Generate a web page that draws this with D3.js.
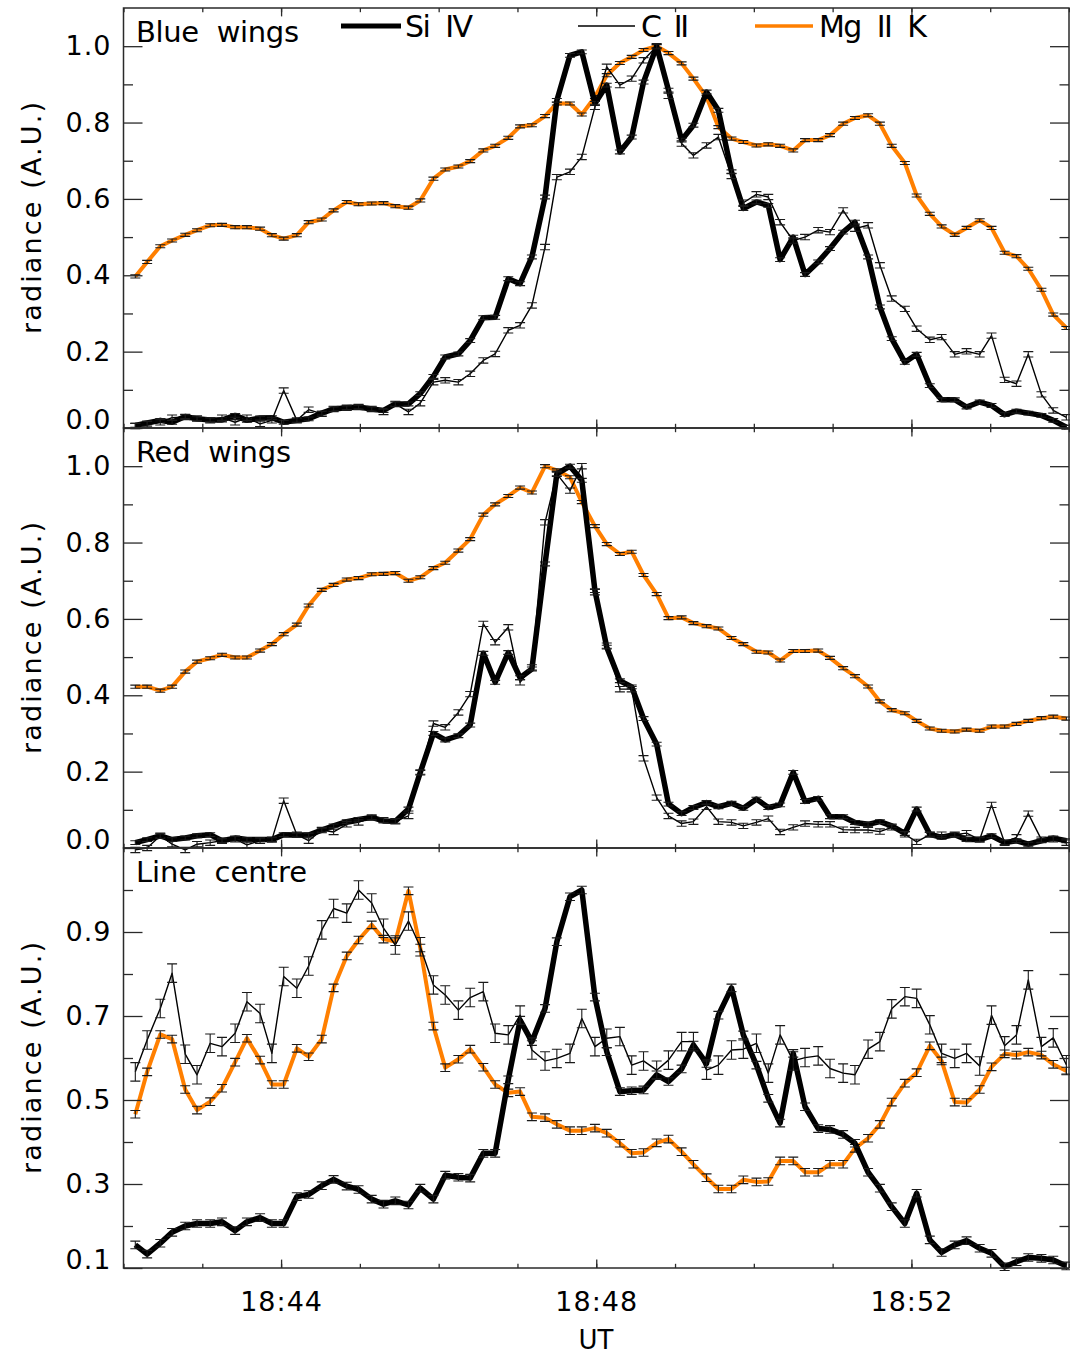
<!DOCTYPE html>
<html><head><meta charset="utf-8">
<script src="https://cdn.jsdelivr.net/npm/d3@7"></script>
<style>
body{margin:0;background:#fff;}
svg text{font-family:"DejaVu Sans",sans-serif;fill:#000;}
</style></head><body>
<svg id="chart" width="1070" height="1358"></svg>
<script>
// ---------------- DATA ----------------
const times = ["18:42:09","18:42:18","18:42:28","18:42:37","18:42:47","18:42:56","18:43:06","18:43:15","18:43:25","18:43:34",
"18:43:44","18:43:53","18:44:02","18:44:12","18:44:21","18:44:31","18:44:40","18:44:50","18:44:59","18:45:09",
"18:45:18","18:45:27","18:45:37","18:45:46","18:45:56","18:46:05","18:46:15","18:46:24","18:46:34","18:46:43",
"18:46:53","18:47:02","18:47:11","18:47:21","18:47:30","18:47:40","18:47:49","18:47:59","18:48:08","18:48:18",
"18:48:27","18:48:36","18:48:46","18:48:55","18:49:05","18:49:14","18:49:24","18:49:33","18:49:43","18:49:52",
"18:50:02","18:50:11","18:50:20","18:50:30","18:50:39","18:50:49","18:50:58","18:51:08","18:51:17","18:51:27",
"18:51:36","18:51:45","18:51:55","18:52:04","18:52:14","18:52:23","18:52:33","18:52:42","18:52:52","18:53:01",
"18:53:11","18:53:20","18:53:29","18:53:39","18:53:48","18:53:58"];

const panelTitles = ["Blue  wings","Red  wings","Line  centre"];
const seriesNames = ["Si  IV","C  II","Mg  II  K"];

const blueSiIV = [0.007,0.013,0.020,0.015,0.030,0.024,0.021,0.021,0.033,0.020,
0.026,0.027,0.015,0.020,0.024,0.039,0.050,0.053,0.055,0.050,
0.046,0.063,0.063,0.090,0.135,0.186,0.194,0.229,0.289,0.290,
0.391,0.378,0.448,0.605,0.858,0.976,0.985,0.850,0.898,0.723,
0.762,0.906,1.000,0.885,0.754,0.793,0.880,0.832,0.671,0.575,
0.592,0.583,0.441,0.500,0.402,0.435,0.470,0.513,0.539,0.448,
0.317,0.234,0.172,0.193,0.111,0.074,0.074,0.055,0.068,0.059,
0.035,0.044,0.039,0.033,0.020,0.002];
const blueCII = [0.005,0.010,0.015,0.027,0.029,0.025,0.020,0.027,0.015,0.027,
0.011,0.020,0.098,0.020,0.048,0.037,0.050,0.053,0.055,0.050,
0.042,0.063,0.042,0.065,0.120,0.125,0.120,0.142,0.177,0.194,
0.256,0.269,0.321,0.474,0.657,0.671,0.710,0.841,0.946,0.898,
0.915,0.963,1.000,0.870,0.745,0.714,0.740,0.762,0.660,0.590,
0.612,0.605,0.539,0.491,0.500,0.518,0.513,0.570,0.522,0.531,
0.426,0.339,0.312,0.260,0.231,0.238,0.193,0.201,0.193,0.242,
0.126,0.116,0.193,0.088,0.046,0.028];
const blueMgIIK = [0.397,0.435,0.476,0.491,0.506,0.518,0.531,0.532,0.526,0.526,
0.522,0.505,0.496,0.505,0.539,0.546,0.570,0.592,0.586,0.588,
0.589,0.581,0.577,0.596,0.653,0.677,0.685,0.699,0.727,0.739,
0.760,0.790,0.793,0.817,0.850,0.850,0.821,0.867,0.924,0.956,
0.972,0.990,1.000,0.982,0.955,0.915,0.867,0.788,0.758,0.749,
0.740,0.743,0.739,0.727,0.754,0.754,0.767,0.797,0.812,0.819,
0.797,0.739,0.694,0.609,0.561,0.528,0.506,0.524,0.544,0.524,
0.459,0.450,0.417,0.362,0.297,0.262];

const redSiIV = [0.014,0.022,0.032,0.022,0.026,0.032,0.035,0.019,0.026,0.022,
0.022,0.022,0.035,0.034,0.034,0.047,0.058,0.069,0.075,0.080,
0.071,0.070,0.102,0.198,0.300,0.283,0.294,0.322,0.510,0.434,
0.512,0.446,0.469,0.744,0.980,1.000,0.963,0.674,0.526,0.438,
0.422,0.339,0.272,0.115,0.090,0.106,0.119,0.108,0.117,0.104,
0.128,0.106,0.113,0.198,0.122,0.130,0.082,0.082,0.067,0.062,
0.069,0.058,0.038,0.102,0.036,0.028,0.035,0.022,0.022,0.032,
0.014,0.019,0.010,0.019,0.026,0.019];
const redCII = [-0.005,0.000,0.032,0.010,-0.005,0.010,0.014,0.019,0.023,0.008,
0.019,0.022,0.124,0.035,0.019,0.047,0.042,0.062,0.067,0.080,
0.073,0.070,0.084,0.198,0.326,0.316,0.355,0.403,0.587,0.539,
0.578,0.434,0.473,0.853,0.980,0.936,1.000,0.670,0.530,0.416,
0.416,0.235,0.132,0.084,0.064,0.069,0.108,0.069,0.067,0.058,
0.067,0.077,0.042,0.054,0.064,0.062,0.062,0.048,0.047,0.047,
0.043,0.054,0.036,0.016,0.035,0.035,0.035,0.039,0.022,0.113,
0.014,0.028,0.090,0.022,0.023,0.014];
const redMgIIK = [0.4225,0.4225,0.412,0.4225,0.462,0.488,0.497,0.506,0.499,0.499,
0.517,0.534,0.560,0.585,0.635,0.676,0.689,0.703,0.707,0.717,
0.718,0.720,0.700,0.709,0.733,0.747,0.779,0.809,0.873,0.900,
0.922,0.944,0.931,1.000,0.989,0.971,0.906,0.843,0.796,0.770,
0.776,0.715,0.665,0.602,0.604,0.589,0.581,0.575,0.550,0.534,
0.514,0.512,0.491,0.516,0.516,0.517,0.498,0.471,0.450,0.423,
0.384,0.361,0.353,0.333,0.313,0.307,0.305,0.310,0.307,0.318,
0.318,0.325,0.333,0.340,0.344,0.339];

const lineSiIV = [0.155,0.133,0.159,0.185,0.200,0.206,0.206,0.210,0.189,0.210,
0.220,0.206,0.206,0.270,0.275,0.296,0.311,0.295,0.287,0.264,
0.252,0.260,0.250,0.290,0.264,0.321,0.316,0.314,0.373,0.373,
0.548,0.690,0.639,0.718,0.877,0.984,1.000,0.745,0.615,0.520,
0.522,0.524,0.560,0.544,0.574,0.631,0.587,0.702,0.767,0.655,
0.583,0.504,0.445,0.611,0.484,0.432,0.430,0.418,0.397,0.328,
0.290,0.246,0.206,0.278,0.167,0.137,0.155,0.165,0.147,0.135,
0.103,0.115,0.125,0.123,0.119,0.105];
const lineCII = [0.567,0.643,0.718,0.802,0.609,0.560,0.635,0.627,0.659,0.734,
0.706,0.611,0.794,0.766,0.819,0.905,0.956,0.945,1.000,0.969,
0.909,0.869,0.926,0.865,0.774,0.750,0.714,0.744,0.758,0.659,
0.655,0.702,0.619,0.593,0.599,0.611,0.694,0.627,0.647,0.651,
0.583,0.593,0.571,0.595,0.639,0.639,0.571,0.583,0.619,0.621,
0.635,0.564,0.655,0.593,0.601,0.605,0.575,0.564,0.560,0.621,
0.639,0.717,0.746,0.742,0.679,0.611,0.599,0.611,0.581,0.702,
0.629,0.655,0.786,0.627,0.648,0.584];
const lineMgIIK = [0.466,0.567,0.656,0.645,0.525,0.476,0.496,0.528,0.590,0.647,
0.595,0.537,0.537,0.623,0.603,0.645,0.767,0.843,0.881,0.917,
0.883,0.877,0.998,0.862,0.676,0.577,0.597,0.621,0.578,0.537,
0.517,0.520,0.460,0.458,0.442,0.427,0.427,0.433,0.421,0.397,
0.373,0.375,0.398,0.407,0.377,0.347,0.315,0.288,0.288,0.310,
0.305,0.306,0.355,0.355,0.328,0.328,0.347,0.347,0.385,0.409,
0.442,0.495,0.540,0.565,0.629,0.593,0.495,0.494,0.525,0.579,
0.610,0.607,0.614,0.607,0.585,0.569];

// error bar half-sizes per series [Si IV, C II, Mg II K]
const blueErr = [0.005, 0.007, 0.004];
const redErr  = [0.005, 0.007, 0.004];
const lineErr = [0.009, 0.022, 0.009];

const yDomainUpper = [0.0, 1.1];
const yDomainLower = [0.1, 1.1];
const yMajorUpper = [0.0,0.2,0.4,0.6,0.8,1.0];
const yMinorUpper = [0.1,0.3,0.5,0.7,0.9];
const yMajorLower = [0.1,0.3,0.5,0.7,0.9];
const yMinorLower = [0.2,0.4,0.6,0.8,1.0];
const xDomain = ["18:42:00","18:54:00"];
const xMajor = ["18:44:00","18:48:00","18:52:00"];
const xTitle = "UT";
const yTitle = "radiance (A.U.)";

// ---------------- LAYOUT ----------------
const W = 1070, H = 1358;
const X0 = 123.5, X1 = 1069;
const panelTops = [8, 428, 848];
const panelH = 420;
const colors = ["#000000", "#000000", "#ff7f00"];
const widths = [5.5, 1.4, 4];
const tickMajY = 19, tickMinY = 9.5, tickMajX = 8.4, tickMinX = 4.2;
const axisColor = "#2a2a2a";

const parse = d3.timeParse("%H:%M:%S");
const tDates = times.map(parse);
const x = d3.scaleTime().domain(xDomain.map(parse)).range([X0, X1]);

const svg = d3.select("#chart");
svg.append("rect").attr("width", W).attr("height", H).attr("fill", "#fff");

const panels = [
  {title: panelTitles[0], series: [blueSiIV, blueCII, blueMgIIK], err: blueErr, dom: yDomainUpper, major: yMajorUpper, minor: yMinorUpper},
  {title: panelTitles[1], series: [redSiIV, redCII, redMgIIK], err: redErr, dom: yDomainUpper, major: yMajorUpper, minor: yMinorUpper},
  {title: panelTitles[2], series: [lineSiIV, lineCII, lineMgIIK], err: lineErr, dom: yDomainLower, major: yMajorLower, minor: yMinorLower}
];
const titleLens = [163, 155, 171];

function styleAxis(g) {
  g.select(".domain").remove();
  g.selectAll(".tick line").attr("stroke", axisColor).attr("stroke-width", 1.3);
  g.selectAll(".tick text").attr("font-size", 27).attr("font-family", "DejaVu Sans")
    .attr("letter-spacing", 1).attr("fill", "#000");
}

panels.forEach((p, pi) => {
  const top = panelTops[pi], bot = top + panelH;
  const y = d3.scaleLinear().domain(p.dom).range([bot, top]);
  const g = svg.append("g");

  // draw order: Mg II K, Si IV, C II
  [2, 0, 1].forEach(si => {
    const vals = p.series[si];
    const data = vals.map((v, i) => ({t: tDates[i], v}));
    g.append("path").datum(data)
      .attr("fill", "none").attr("stroke", colors[si]).attr("stroke-width", widths[si])
      .attr("stroke-linejoin", "round").attr("stroke-linecap", "butt")
      .attr("d", d3.line().x(d => x(d.t)).y(d => y(d.v)));
    const e = p.err[si];
    const eb = g.append("g").attr("stroke", "#1a1a1a").attr("stroke-width", 1.1).attr("fill", "none");
    eb.selectAll("path").data(data).join("path")
      .attr("d", d => {
        const cx = x(d.t), y1 = y(d.v + e), y2 = y(d.v - e);
        return `M${cx},${y1}V${y2}M${cx-5},${y1}H${cx+5}M${cx-5},${y2}H${cx+5}`;
      });
  });

  // frame
  g.append("rect").attr("x", X0).attr("y", top).attr("width", X1 - X0).attr("height", panelH)
    .attr("fill", "none").attr("stroke", axisColor).attr("stroke-width", 1.5);

  // y axes
  const fmt = d3.format(".1f");
  const yl = g.append("g").attr("transform", `translate(${X0},0)`)
    .call(d3.axisLeft(y).tickValues(p.major).tickSize(-tickMajY).tickSizeOuter(0).tickPadding(12).tickFormat(fmt));
  styleAxis(yl);
  // lowest label sits on the axis line
  yl.selectAll(".tick text").filter(d => d === p.major[0]).attr("dy", "0em");
  const ylm = g.append("g").attr("transform", `translate(${X0},0)`)
    .call(d3.axisLeft(y).tickValues(p.minor).tickSize(-tickMinY).tickSizeOuter(0).tickFormat(""));
  styleAxis(ylm);
  const yr = g.append("g").attr("transform", `translate(${X1},0)`)
    .call(d3.axisRight(y).tickValues(p.major).tickSize(-tickMajY).tickSizeOuter(0).tickFormat(""));
  styleAxis(yr);
  const yrm = g.append("g").attr("transform", `translate(${X1},0)`)
    .call(d3.axisRight(y).tickValues(p.minor).tickSize(-tickMinY).tickSizeOuter(0).tickFormat(""));
  styleAxis(yrm);

  // x axes (bottom and top of every panel)
  const xb = g.append("g").attr("transform", `translate(0,${bot})`)
    .call(d3.axisBottom(x).tickValues(xMajor.map(parse)).tickSize(-tickMajX).tickSizeOuter(0).tickPadding(24)
      .tickFormat(pi === 2 ? d3.timeFormat("%H:%M") : ""));
  styleAxis(xb);
  const xbm = g.append("g").attr("transform", `translate(0,${bot})`)
    .call(d3.axisBottom(x).ticks(d3.timeMinute.every(1)).tickSize(-tickMinX).tickSizeOuter(0).tickFormat(""));
  styleAxis(xbm);
  const xt = g.append("g").attr("transform", `translate(0,${top})`)
    .call(d3.axisTop(x).tickValues(xMajor.map(parse)).tickSize(-tickMajX).tickSizeOuter(0).tickFormat(""));
  styleAxis(xt);
  const xtm = g.append("g").attr("transform", `translate(0,${top})`)
    .call(d3.axisTop(x).ticks(d3.timeMinute.every(1)).tickSize(-tickMinX).tickSizeOuter(0).tickFormat(""));
  styleAxis(xtm);

  // panel title
  g.append("text").attr("x", 136).attr("y", top + 34).attr("font-size", 29)
    .style("white-space", "pre").attr("textLength", titleLens[pi]).attr("lengthAdjust", "spacing")
    .text(p.title);

  // y title
  g.append("text").attr("transform", `translate(41,${top + panelH / 2}) rotate(-90)`)
    .attr("text-anchor", "middle").attr("font-size", 27)
    .attr("textLength", 232).attr("lengthAdjust", "spacing")
    .text(yTitle);
});

// legend in top panel
const legend = [
  {x1: 341, x2: 401, tx: 405, len: 68},
  {x1: 578, x2: 635, tx: 641, len: 48},
  {x1: 755, x2: 813, tx: 819, len: 108}
];
legend.forEach((l, i) => {
  svg.append("line").attr("x1", l.x1).attr("x2", l.x2).attr("y1", 26).attr("y2", 26)
    .attr("stroke", colors[i]).attr("stroke-width", i === 0 ? 5 : (i === 1 ? 1.4 : 3.5));
  svg.append("text").attr("x", l.tx).attr("y", 37).attr("font-size", 30)
    .style("white-space", "pre").attr("textLength", l.len).attr("lengthAdjust", "spacing")
    .text(seriesNames[i]);
});

// x title
svg.append("text").attr("x", 596).attr("y", 1349).attr("text-anchor", "middle")
  .attr("font-size", 26).text(xTitle);
</script>
</body></html>
